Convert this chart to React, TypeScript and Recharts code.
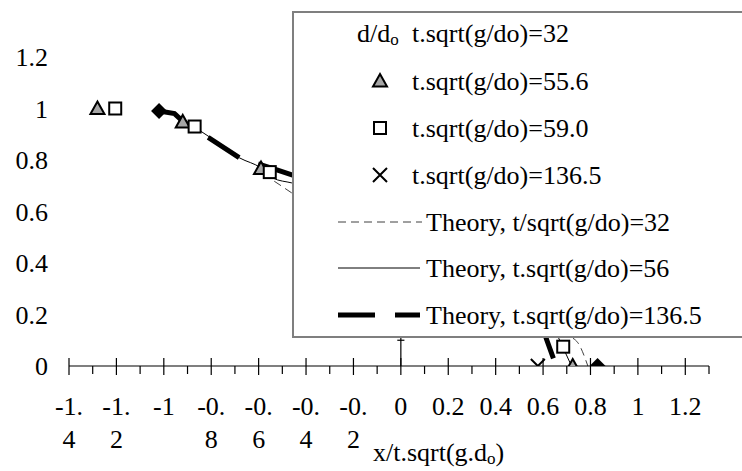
import { ComposedChart, XAxis, YAxis, Line, Scatter, ReferenceLine, Legend } from 'recharts';

// measured profiles, d/do against x/t.sqrt(g.do)
const RUN32_X = [-1.02, 0.83];
const RUN32_Y = [0.99, 0];
const RUN556_X = [-1.28, -0.92, -0.59, 0.725];
const RUN556_Y = [1.0, 0.948, 0.767, 0];
const RUN590_X = [-1.205, -0.87, -0.553, 0.685];
const RUN590_Y = [1.0, 0.93, 0.753, 0.075];
const RUN1365_X = [0.578];
const RUN1365_Y = [0];

// theory curves (mostly hidden behind the legend box)
const TH32_X = [-0.58, -0.51, -0.46, -0.3, 0, 0.3, 0.55, 0.7, 0.747, 0.789];
const TH32_Y = [0.745, 0.703, 0.672, 0.6, 0.48, 0.33, 0.2, 0.12, 0.09, 0];
const TH56_X = [-0.95, -0.8, -0.68, -0.59, -0.54, -0.46, -0.2, 0.1, 0.35, 0.5, 0.6, 0.665, 0.69, 0.72];
const TH56_Y = [0.975, 0.885, 0.808, 0.769, 0.73, 0.711, 0.65, 0.56, 0.42, 0.3, 0.2, 0.11, 0.06, 0];
const TH1365_X = [-1.02, -0.955, -0.92, -0.8, -0.68, -0.52, -0.46, -0.2, 0.1, 0.3, 0.45, 0.55, 0.59, 0.616, 0.655];
const TH1365_Y = [0.99, 0.98, 0.95, 0.88, 0.808, 0.761, 0.742, 0.69, 0.61, 0.52, 0.4, 0.26, 0.17, 0.1, 0];

// axes
const Y_TICKS = [0, 0.2, 0.4, 0.6, 0.8, 1, 1.2];
const X_MAJOR = [-1.4, -1.2, -1, -0.8, -0.6, -0.4, -0.2, 0, 0.2, 0.4, 0.6, 0.8, 1, 1.2];
const X_MINOR = [-1.3, -1.1, -0.9, -0.7, -0.5, -0.3, -0.1, 0.1, 0.3, 0.5, 0.7, 0.9, 1.1, 1.3];
const X_LABEL_TOP = ['-1.', '-1.', '-1', '-0.', '-0.', '-0.', '-0.', '0', '0.2', '0.4', '0.6', '0.8', '1', '1.2'];
const X_LABEL_BOTTOM = ['4', '2', '', '8', '6', '4', '2', '', '', '', '', '', '', ''];

const toPoints = (xs: number[], ys: number[]) => xs.map((x, i) => ({ x, y: ys[i] }));

const FONT = 'Liberation Serif';
const FS = 26;

// ---------------------------------------------------------------------------
// marker shapes
// ---------------------------------------------------------------------------

function Diamond({ cx, cy }: any) {
  return <polygon points={`${cx},${cy - 8} ${cx + 8},${cy} ${cx},${cy + 8} ${cx - 8},${cy}`} fill="#000" />;
}

function Triangle({ cx, cy }: any) {
  return (
    <polygon
      points={`${cx},${cy - 7} ${cx + 7},${cy + 5.5} ${cx - 7},${cy + 5.5}`}
      fill="#a6a6a6"
      stroke="#000"
      strokeWidth={2}
    />
  );
}

function Square({ cx, cy }: any) {
  return <rect x={cx - 6} y={cy - 6} width={12} height={12} fill="#fff" stroke="#000" strokeWidth={2} />;
}

function Cross({ cx, cy }: any) {
  return (
    <path
      d={`M${cx - 7},${cy - 7}L${cx + 7},${cy + 7}M${cx + 7},${cy - 7}L${cx - 7},${cy + 7}`}
      stroke="#000"
      strokeWidth={2}
      fill="none"
    />
  );
}

// ---------------------------------------------------------------------------
// axis pieces
// ---------------------------------------------------------------------------

function XTick({ x, y, payload }: any) {
  const mi = X_MAJOR.indexOf(payload.value);
  if (mi < 0) {
    return <line x1={x} x2={x} y1={y} y2={y + 8} stroke="#000" strokeWidth={1.2} />;
  }
  return (
    <g>
      <line x1={x} x2={x} y1={y - 8} y2={y + 9} stroke="#000" strokeWidth={1.2} />
      <text x={x} y={y + 49} textAnchor="middle" fontFamily={FONT} fontSize={FS} fill="#000">
        {X_LABEL_TOP[mi]}
      </text>
      {X_LABEL_BOTTOM[mi] && (
        <text x={x} y={y + 82} textAnchor="middle" fontFamily={FONT} fontSize={FS} fill="#000">
          {X_LABEL_BOTTOM[mi]}
        </text>
      )}
    </g>
  );
}

function XTitle({ viewBox }: any) {
  return (
    <text x={viewBox.x + 304} y={viewBox.y + 95} fontFamily={FONT} fontSize={FS} fill="#000">
      x/t.sqrt(g.d
      <tspan fontSize={17} dy={3}>o</tspan>
      <tspan dy={-3}>)</tspan>
    </text>
  );
}

// ---------------------------------------------------------------------------
// legend box (sits on top of the plot, as in the original)
// ---------------------------------------------------------------------------

const ROW_Y = [22, 70, 117, 164, 211, 257, 304];

function LegendBox() {
  const base = (i: number) => ROW_Y[i] + 9;
  return (
    <div
      style={{
        position: 'relative',
        width: 470,
        height: 327,
        boxSizing: 'border-box',
        border: '2px solid #7f7f7f',
        background: '#fff',
      }}
    >
      <svg
        width={470}
        height={327}
        style={{ position: 'absolute', left: -2, top: -2 }}
        fontFamily={FONT}
        fontSize={FS}
      >
        <text x={65} y={base(0)} fill="#000">
          d/d
          <tspan fontSize={17} dy={3}>o</tspan>
        </text>
        <text x={120} y={base(0)} fill="#000">t.sqrt(g/do)=32</text>

        <Triangle cx={88} cy={ROW_Y[1]} />
        <text x={120} y={base(1)} fill="#000">t.sqrt(g/do)=55.6</text>

        <Square cx={88} cy={ROW_Y[2]} />
        <text x={120} y={base(2)} fill="#000">t.sqrt(g/do)=59.0</text>

        <Cross cx={88} cy={ROW_Y[3]} />
        <text x={120} y={base(3)} fill="#000">t.sqrt(g/do)=136.5</text>

        <line x1={46} x2={130} y1={ROW_Y[4]} y2={ROW_Y[4]} stroke="#404040" strokeWidth={1} strokeDasharray="8 5" />
        <text x={134} y={base(4)} fill="#000">Theory, t/sqrt(g/do)=32</text>

        <line x1={46} x2={128} y1={ROW_Y[5]} y2={ROW_Y[5]} stroke="#000" strokeWidth={1} />
        <text x={134} y={base(5)} fill="#000">Theory, t.sqrt(g/do)=56</text>

        <line x1={46} x2={128} y1={ROW_Y[6]} y2={ROW_Y[6]} stroke="#000" strokeWidth={5} strokeDasharray="37 20" />
        <text x={134} y={base(6)} fill="#000">Theory, t.sqrt(g/do)=136.5</text>
      </svg>
    </div>
  );
}

export default function App() {
  return (
    <div
      style={{
        position: 'absolute',
        left: 0,
        top: 0,
        width: 742,
        height: 471,
        overflow: 'hidden',
        background: '#fff',
        fontFamily: FONT,
      }}
    >
      <ComposedChart width={742} height={471} margin={{ top: 57, right: 33, bottom: 0, left: 0 }}>
        <XAxis
          type="number"
          dataKey="x"
          domain={[-1.4, 1.3]}
          ticks={[...X_MAJOR, ...X_MINOR]}
          interval={0}
          allowDataOverflow
          height={105}
          axisLine={{ stroke: '#000', strokeWidth: 1.2 }}
          tickLine={false}
          tickSize={0}
          tickMargin={0}
          tick={(p: any) => <XTick {...p} />}
          label={<XTitle />}
        />
        <YAxis
          type="number"
          dataKey="y"
          domain={[0, 1.2]}
          ticks={Y_TICKS}
          interval={0}
          allowDataOverflow
          width={69}
          axisLine={false}
          tickLine={false}
          tickSize={0}
          tickMargin={21}
          tick={{ fontSize: FS, fill: '#000', fontFamily: FONT }}
        />

        {/* vertical axis crosses at x = 0 */}
        <ReferenceLine x={0} stroke="#000" strokeWidth={1.2} />
        <ReferenceLine
          segment={[
            { x: -0.015, y: 0.1 },
            { x: 0.015, y: 0.1 },
          ]}
          stroke="#000"
          strokeWidth={1.2}
        />

        <Line
          data={toPoints(TH32_X, TH32_Y)}
          dataKey="y"
          type="monotone"
          stroke="#404040"
          strokeWidth={1}
          strokeDasharray="8 5"
          dot={false}
          activeDot={false}
          isAnimationActive={false}
        />
        <Line
          data={toPoints(TH56_X, TH56_Y)}
          dataKey="y"
          type="monotone"
          stroke="#000"
          strokeWidth={1}
          dot={false}
          activeDot={false}
          isAnimationActive={false}
        />
        <Line
          data={toPoints(TH1365_X, TH1365_Y)}
          dataKey="y"
          type="linear"
          stroke="#000"
          strokeWidth={5}
          strokeDasharray="37 20"
          dot={false}
          activeDot={false}
          isAnimationActive={false}
        />

        <Scatter data={toPoints(RUN32_X, RUN32_Y)} dataKey="y" shape={(p: any) => <Diamond {...p} />} isAnimationActive={false} />
        <Scatter data={toPoints(RUN556_X, RUN556_Y)} dataKey="y" shape={(p: any) => <Triangle {...p} />} isAnimationActive={false} />
        <Scatter data={toPoints(RUN590_X, RUN590_Y)} dataKey="y" shape={(p: any) => <Square {...p} />} isAnimationActive={false} />
        <Scatter data={toPoints(RUN1365_X, RUN1365_Y)} dataKey="y" shape={(p: any) => <Cross {...p} />} isAnimationActive={false} />

        <Legend
          layout="vertical"
          align="center"
          verticalAlign="middle"
          wrapperStyle={{ position: 'absolute', left: 292, top: 11, width: 470, height: 327 }}
          content={() => <LegendBox />}
        />
      </ComposedChart>
    </div>
  );
}
